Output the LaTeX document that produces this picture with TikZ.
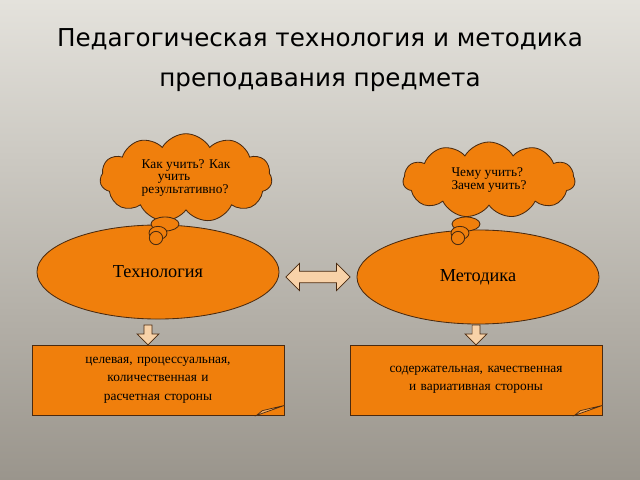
\documentclass[tikz,border=0pt]{standalone}
\usepackage{fontspec}
\setmainfont{Liberation Serif}
\newfontfamily\titlefont{DejaVu Sans}
\usetikzlibrary{shapes.geometric, shapes.symbols, shapes.arrows, positioning}
\definecolor{orng}{HTML}{F07F0C}
\definecolor{edge}{HTML}{4A2A10}
\definecolor{pale}{HTML}{F8D2A8}
\definecolor{bgtop}{HTML}{E4E2DC}
\definecolor{bgbot}{HTML}{9A958C}
\tikzset{
  topic/.style = {
    ellipse,
    minimum width=6.05cm,
    minimum height=2.35cm,
    draw=edge,
    fill=orng,
    line width=0.6pt,
    font=\fontsize{13}{15}\selectfont
  },
  thought/.style = {
    cloud,
    cloud puffs=11,
    cloud puff arc=120,
    aspect=2.4,
    minimum width=4.3cm,
    minimum height=1.9cm,
    draw=edge,
    fill=orng,
    line width=0.6pt,
    align=left,
    font=\fontsize{9.5}{9}\selectfont
  },
  bubble/.style = {
    ellipse,
    draw=edge,
    fill=orng,
    line width=0.6pt
  },
  note/.style = {
    rectangle,
    minimum width=6.3cm,
    minimum height=1.75cm,
    text width=5.0cm,
    align=center,
    draw=edge,
    fill=orng,
    line width=0.6pt,
    font=\fontsize{9.5}{13}\selectfont
  },
  downarrow/.style = {
    single arrow,
    shape border rotate=270,
    minimum height=0.5cm,
    minimum width=0.55cm,
    single arrow head extend=0.08cm,
    draw=edge,
    fill=pale,
    line width=0.5pt,
    inner sep=1pt
  }
}
\begin{document}
\begin{tikzpicture}[x=0.025cm, y=-0.025cm]
\shade[top color=bgtop, bottom color=bgbot] (0,0) rectangle (640,480);
\useasboundingbox (0,0) rectangle (640,480);

% ===== Title =====
\node (title) [font=\titlefont\fontsize{17.5}{28}\selectfont, align=center, text=black]
  at (320,60) {Педагогическая технология и методика\\преподавания предмета};

% ===== Topics =====
\node (tech) [topic] at (158,272) {Технология};
\node (meth) [topic] at (478,277) {Методика};
\node (link) [double arrow, draw=edge, fill=pale, line width=0.5pt,
  minimum height=1.6cm, minimum width=0.68cm, double arrow head extend=0.06cm,
  inner sep=1pt] at (318,277) {};

% ===== Clouds =====
\node (qL) [thought] at (186,178) {Как учить? Как\\\hspace*{1.2em}учить\\результативно?};
\node (qR) [thought] at (489,180) {Чему учить?\\Зачем учить?};
\node (bL1) [bubble, minimum width=0.7cm, minimum height=0.35cm] at (165,224) {};
\node (bL2) [bubble, minimum width=0.45cm, minimum height=0.22cm] at (158,233) {};
\node (bL3) [bubble, minimum width=0.3cm, minimum height=0.15cm] at (156,238) {};
\node (bR1) [bubble, minimum width=0.7cm, minimum height=0.35cm] at (466,224) {};
\node (bR2) [bubble, minimum width=0.45cm, minimum height=0.22cm] at (460,233) {};
\node (bR3) [bubble, minimum width=0.3cm, minimum height=0.15cm] at (458,238) {};

% ===== Notes =====
\node (aL) [downarrow] at (148,333) {};
\node (aR) [downarrow] at (476,333) {};
\node (nL) [note] at (158,380) {целевая, процессуальная, количественная и расчетная стороны};
\node (nR) [note, text width=5.6cm] at (476,380) {содержательная, качественная и вариативная стороны};
\foreach \n in {nL, nR}
  \draw [edge, fill=pale!60!orng, line width=0.5pt]
    ([xshift=-0.7cm]\n.south east) -- ([yshift=0.25cm]\n.south east) -- ([xshift=-0.55cm, yshift=0.12cm]\n.south east) -- cycle;

\end{tikzpicture}
\end{document}
